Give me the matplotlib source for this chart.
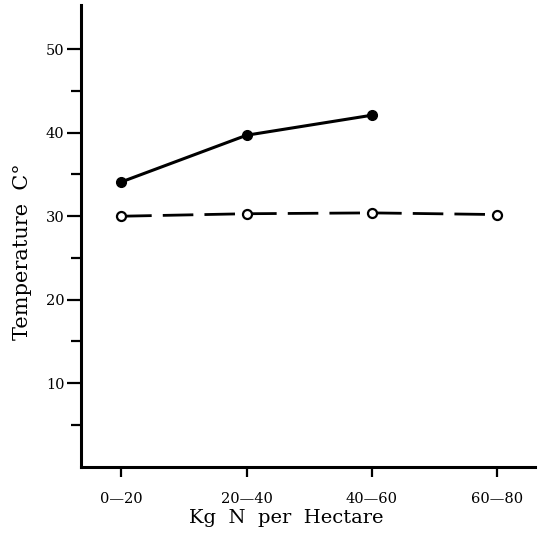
import numpy as np
import matplotlib
matplotlib.use("Agg")
import matplotlib.pyplot as plt

# nitrogen rate classes and measured temperatures
rate_labels = ["0\u201420", "20\u201440", "40\u201460", "60\u201480"]
filled_temp = [34.1, 39.7, 42.1]
open_temp = [30.0, 30.3, 30.4, 30.2]

plt.rcParams["font.family"] = ["DejaVu Serif"]

fig = plt.figure(figsize=(5.41, 5.40), dpi=100)
ax = fig.add_axes([81 / 541, (540 - 466.7) / 540, (535 - 81) / 541, (466.7 - 5) / 540])

x_filled = np.arange(1, len(filled_temp) + 1)
x_open = np.arange(1, len(open_temp) + 1)

ax.plot(x_filled, filled_temp, color="black", lw=2.2, marker="o", ms=7,
        mfc="black", mec="black")
ax.plot(x_open, open_temp, color="black", lw=2.0, ls=(0, (11, 4)), marker="o",
        ms=6.5, mfc="white", mec="black", mew=1.6)

ax.set_xlim(0.68, 4.30)
ax.set_ylim(0, 55.3)

ax.set_xticks(np.arange(1, len(rate_labels) + 1))
ax.set_xticklabels(rate_labels, fontsize=10.5)
ax.set_yticks([10, 20, 30, 40, 50])
ax.set_yticks([5, 15, 25, 35, 45], minor=True)
ax.tick_params(axis="y", which="major", length=10, width=1.6, labelsize=10.5, pad=2)
ax.tick_params(axis="y", which="minor", length=7, width=1.6)
ax.tick_params(axis="x", which="major", length=7, width=1.6, labelsize=10.5, pad=11)

for side in ("top", "right"):
    ax.spines[side].set_visible(False)
for side in ("left", "bottom"):
    ax.spines[side].set_linewidth(2.2)

ax.set_xlabel("Kg  N  per  Hectare", fontsize=14)
ax.set_ylabel("Temperature  C\u00b0", fontsize=15)
ax.xaxis.set_label_coords(0.452, -0.092)
ax.yaxis.set_label_coords(-0.108, 0.465)

fig.savefig("out.png", dpi=100)
